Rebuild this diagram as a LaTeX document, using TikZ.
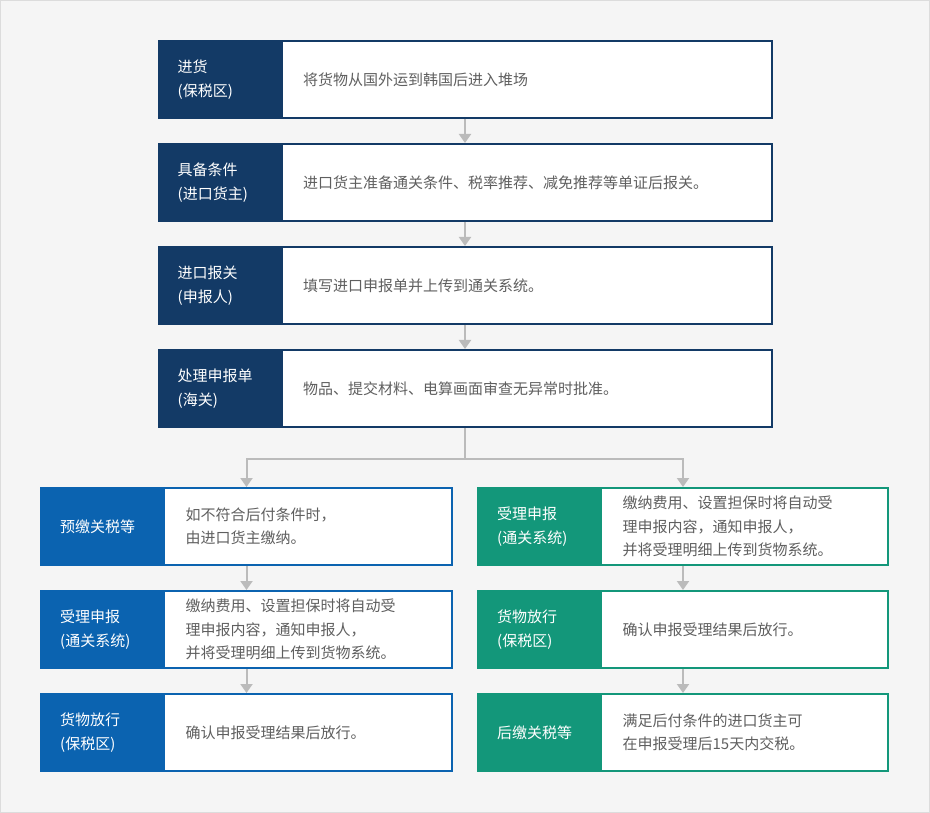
\documentclass[tikz,border=0pt]{standalone}
\usepackage{fontspec}
\setmainfont{Noto Sans CJK SC}
\usepackage{xcolor}
\usetikzlibrary{arrows.meta,positioning}

\definecolor{darknavy}{HTML}{133A66}
\definecolor{midblue}{HTML}{0B63B0}
\definecolor{seagreen}{HTML}{13977A}
\definecolor{textgrey}{HTML}{5F5F5F}
\definecolor{linegrey}{HTML}{BBBBBB}
\definecolor{bggrey}{HTML}{F5F5F5}
\definecolor{framegrey}{HTML}{DCDCDC}
\newcommand\boxfont{\fontsize{15}{23.5}\selectfont}

\begin{document}
\begin{tikzpicture}[
    x=1pt, y=-1pt,
    stage/.style={rectangle, draw=#1, line width=2pt, fill=white, minimum width=613, minimum height=77, inner sep=0},
    tag/.style={rectangle, fill=#1, anchor=west, minimum width=125, minimum height=77, text width=85, inner xsep=20, inner ysep=0, align=left, text=white, font=\boxfont},
    note/.style={anchor=west, inner xsep=20, inner ysep=0, align=left, text=textgrey, font=\boxfont},
    flow/.style={draw=linegrey, line width=2pt, -{Triangle[width=12pt,length=9pt]}},
    trunk/.style={draw=linegrey, line width=2pt}
]

% Background
\useasboundingbox (0,0) rectangle (930,813);
\draw[fill=bggrey, draw=framegrey, line width=1pt] (0.5,0.5) rectangle (929.5,812.5);

% Main chain
\node[stage=darknavy] (arrive) at (465,79.5) {};
\node[tag=darknavy] (arrivetag) at (arrive.west) {进货\\(保税区)};
\node[note] (arrivetext) at (arrivetag.east) {将货物从国外运到韩国后进入堆场};

\node[stage=darknavy] (prepare) at (465,182.5) {};
\node[tag=darknavy] (preparetag) at (prepare.west) {具备条件\\(进口货主)};
\node[note] (preparetext) at (preparetag.east) {进口货主准备通关条件、税率推荐、减免推荐等单证后报关。};

\node[stage=darknavy] (declare) at (465,285.5) {};
\node[tag=darknavy] (declaretag) at (declare.west) {进口报关\\(申报人)};
\node[note] (declaretext) at (declaretag.east) {填写进口申报单并上传到通关系统。};

\node[stage=darknavy] (review) at (465,388.5) {};
\node[tag=darknavy] (reviewtag) at (review.west) {处理申报单\\(海关)};
\node[note] (reviewtext) at (reviewtag.east) {物品、提交材料、电算画面审查无异常时批准。};

% Prepaid branch
\node[stage=midblue, minimum width=411] (prepay) at (246.5,526.5) {};
\node[tag=midblue] (prepaytag) at (prepay.west) {预缴关税等};
\node[note] (prepaytext) at (prepaytag.east) {如不符合后付条件时，\\由进口货主缴纳。};

\node[stage=midblue, minimum width=411] (accepta) at (246.5,629.5) {};
\node[tag=midblue] (acceptatag) at (accepta.west) {受理申报\\(通关系统)};
\node[note] (acceptatext) at (acceptatag.east) {缴纳费用、设置担保时将自动受\\理申报内容，通知申报人，\\并将受理明细上传到货物系统。};

\node[stage=midblue, minimum width=411] (releasea) at (246.5,732.5) {};
\node[tag=midblue] (releaseatag) at (releasea.west) {货物放行\\(保税区)};
\node[note] (releaseatext) at (releaseatag.east) {确认申报受理结果后放行。};

% Deferred branch
\node[stage=seagreen, minimum width=410] (acceptb) at (683,526.5) {};
\node[tag=seagreen] (acceptbtag) at (acceptb.west) {受理申报\\(通关系统)};
\node[note] (acceptbtext) at (acceptbtag.east) {缴纳费用、设置担保时将自动受\\理申报内容，通知申报人，\\并将受理明细上传到货物系统。};

\node[stage=seagreen, minimum width=410] (releaseb) at (683,629.5) {};
\node[tag=seagreen] (releasebtag) at (releaseb.west) {货物放行\\(保税区)};
\node[note] (releasebtext) at (releasebtag.east) {确认申报受理结果后放行。};

\node[stage=seagreen, minimum width=410] (postpay) at (683,732.5) {};
\node[tag=seagreen] (postpaytag) at (postpay.west) {后缴关税等};
\node[note] (postpaytext) at (postpaytag.east) {满足后付条件的进口货主可\\在申报受理后15天内交税。};

% Arrows
\draw[flow] (arrive) -- (prepare);
\draw[flow] (prepare) -- (declare);
\draw[flow] (declare) -- (review);
\draw[trunk] (review.south) -- ++(0,31) coordinate (fork);
\draw[flow] (fork) -| (prepay.north);
\draw[flow] (fork) -| (acceptb.north);
\draw[flow] (prepay) -- (accepta);
\draw[flow] (accepta) -- (releasea);
\draw[flow] (acceptb) -- (releaseb);
\draw[flow] (releaseb) -- (postpay);

\end{tikzpicture}
\end{document}
